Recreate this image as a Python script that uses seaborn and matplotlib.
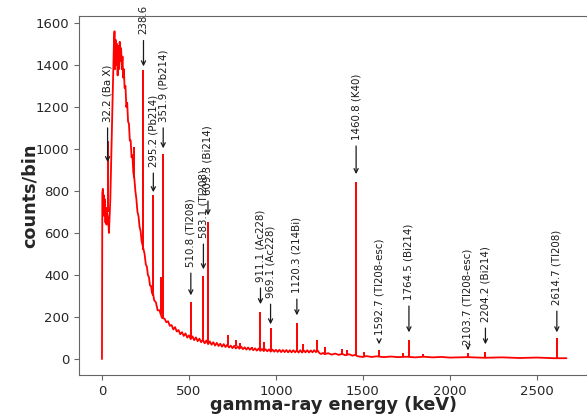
import numpy as np
import pandas as pd
import seaborn as sns
import matplotlib
matplotlib.use("Agg")
import matplotlib.pyplot as plt

# continuum (keV, counts/bin), noise band included
cont_energy = [0, 2, 5, 8, 11, 14, 17, 20, 23, 26, 29, 36, 40, 44, 48, 52, 56, 60, 64, 68,
               72, 75, 78, 82, 86, 90, 94, 98, 102, 106, 110, 114, 118, 122, 126, 130, 135,
               140, 145, 150, 155, 160, 165, 170, 175, 180, 186, 192, 198, 204, 210, 216,
               222, 228, 234, 245, 252, 258, 264, 270, 276, 282, 288, 294, 300, 310, 320,
               330, 345, 360, 370,
               380, 390, 400, 410, 420, 430, 440, 450, 460, 470, 480, 490, 500, 510, 520,
               530, 540, 550, 560, 570, 580, 590, 600, 610, 620, 630, 640, 650, 660, 670,
               680, 690, 700, 710, 720, 730, 740, 750, 760, 770, 780, 790, 800, 810, 820,
               830, 840, 850, 860, 870, 880, 890, 900, 910, 920, 930, 940, 950, 960, 970,
               980, 990, 1000, 1010, 1020, 1030, 1040, 1050, 1060, 1070, 1080, 1090, 1100,
               1110, 1120, 1130, 1140, 1150, 1160, 1170, 1180, 1190, 1200, 1210, 1220, 1230,
               1240, 1250, 1260, 1270, 1280, 1300, 1320, 1340, 1360, 1380, 1400, 1420, 1440,
               1455, 1470, 1500, 1520, 1550, 1580, 1620, 1660, 1700, 1750, 1800, 1850, 1900,
               1950, 2000, 2100, 2200, 2300, 2400, 2500, 2600, 2670]
cont_counts = [0, 790, 810, 700, 780, 680, 760, 650, 720, 640, 700, 660, 600, 680, 760, 900,
               1050, 1200, 1350, 1480, 1560, 1380, 1520, 1400, 1500, 1350, 1490, 1380, 1510,
               1420, 1480, 1380, 1440, 1340, 1380, 1290, 1300, 1200, 1220, 1130, 1120, 1040,
               1040, 960, 970, 890, 860, 800, 760, 700, 680, 630, 610, 560, 540, 500, 450,
               440, 400, 390, 350, 348, 312, 310, 280, 270, 232, 232, 196, 192, 175,
               180, 158, 162, 141, 152, 131, 138, 118, 128, 110, 122, 102, 113, 95, 108,
               90, 103, 85, 97, 80, 92, 75, 88, 71, 84, 68, 80, 64, 77, 62,
               73, 59, 71, 57, 68, 55, 64, 52, 63, 50, 60, 49, 59, 47, 56,
               45, 55, 44, 53, 42, 51, 40, 50, 39, 48, 38, 47, 37, 46, 35,
               45, 35, 44, 34, 44, 33, 43, 33, 43, 32, 42, 32, 42,
               32, 41, 31, 42, 31, 41, 32, 42, 31, 41, 32, 42, 33,
               40, 28, 24, 29, 23, 28, 21, 26, 20, 24, 18, 23, 16,
               20, 13, 10, 14, 10, 13, 9, 12, 9, 11, 8, 11, 8,
               10, 7, 9, 6, 8, 5, 7, 4, 4]

# narrow lines: energy, foot, top
peak_energy = [32.2, 186, 238.6, 295.2, 338, 351.9, 510.8, 583.1, 609.3, 727, 768, 794,
               860, 911.1, 934, 969.1, 1120.3, 1155, 1238, 1281, 1377, 1408, 1460.8, 1509,
               1592.7, 1729, 1764.5, 1847, 2103.7, 2204.2, 2447, 2614.7]
peak_base = [700, 860, 520, 300, 215, 195, 105, 85, 80, 65, 60, 55, 50, 46, 44, 42, 38, 38,
             38, 27, 23, 22, 18, 12, 12, 10, 10, 10, 8, 7, 6, 5]
peak_top = [1040, 1010, 1376, 781, 390, 975, 270, 395, 650, 115, 90, 78, 57, 225, 80, 150,
            170, 70, 90, 55, 48, 43, 845, 33, 45, 29, 92, 24, 30, 35, 12, 100]

# labelled lines: text, energy, arrow head, arrow tail (counts)
ann_text = ["32.2 (Ba X)", "238.6", "295.2 (Pb214)", "351.9 (Pb214)", "510.8 (Tl208)",
            "583.1 (Tl208)", "609.3 (Bi214)", "911.1 (Ac228)", "969.1 (Ac228)",
            "1120.3 (214Bi)", "1460.8 (K40)", "1592.7 (Tl208-esc)", "1764.5 (Bi214)",
            "2103.7 (Tl208-esc)", "2204.2 (Bi214)", "2614.7 (Tl208)"]
ann_energy = [32.2, 238.6, 295.2, 351.9, 510.8, 583.1, 609.3, 911.1, 969.1, 1120.3,
              1460.8, 1592.7, 1764.5, 2103.7, 2204.2, 2614.7]
ann_head = [924, 1380, 781, 990, 290, 414, 671, 248, 152, 195, 867, 57, 114, 43, 57, 114]
ann_tail = [1129, 1545, 914, 1129, 438, 576, 781, 367, 290, 314, 1043, 114, 281, 67, 176, 257]

sns.set_style("ticks")
plt.rcParams['font.family'] = ['DejaVu Sans']

fig = plt.figure(figsize=(5.87, 4.17), dpi=100)
ax = fig.add_axes([0.1346, 0.1007, 0.8654, 0.861])

df = pd.DataFrame({"energy": cont_energy, "counts": cont_counts})
sns.lineplot(data=df, x="energy", y="counts", color="red", linewidth=1.3, ax=ax)
ax.vlines(peak_energy, peak_base, peak_top, color="red", linewidth=1.4)

for txt, e, h, t in zip(ann_text, ann_energy, ann_head, ann_tail):
    ax.annotate(txt, xy=(e, h), xytext=(e, t), rotation=90, ha="center", va="bottom",
                fontsize=7.4, color="0.1",
                arrowprops=dict(arrowstyle="->", color="0.1", lw=0.9))

ax.set_xlim(-132, 2788)
ax.set_ylim(-76, 1633)
ax.set_xticks([0, 500, 1000, 1500, 2000, 2500])
ax.set_yticks(range(0, 1601, 200))
ax.tick_params(labelsize=9.5, color="0.4", length=3.5)
for side in ["left", "bottom", "top"]:
    ax.spines[side].set_color("0.4")
    ax.spines[side].set_visible(True)
ax.spines["right"].set_visible(False)

ax.set_xlabel("gamma-ray energy (keV)", fontsize=12.7, fontweight="bold", labelpad=-1)
ax.set_ylabel("counts/bin", fontsize=12.7, fontweight="bold", labelpad=-2)

fig.savefig("out.png", dpi=100)
